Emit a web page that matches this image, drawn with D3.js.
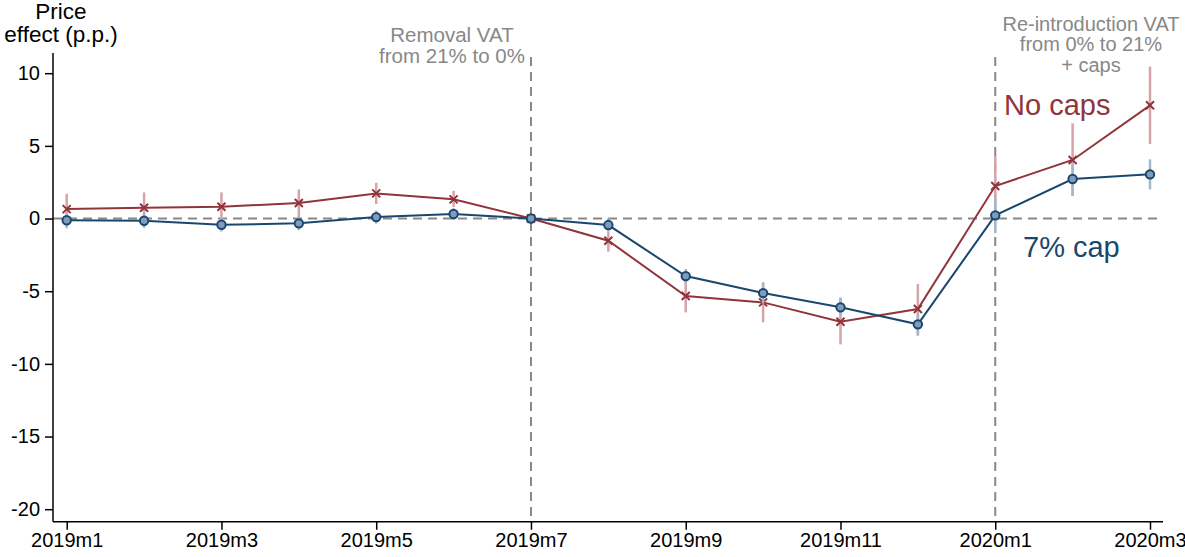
<!DOCTYPE html>
<html>
<head>
<meta charset="utf-8">
<script src="https://cdn.jsdelivr.net/npm/d3@7"></script>
<style>
  html, body { margin: 0; padding: 0; background: #fff; }
  svg { display: block; font-family: Arial, "Liberation Sans", sans-serif; }
</style>
</head>
<body>
<svg id="chart" width="1185" height="557"></svg>
<script>
// ---- data ----
const months = ["2019m1","2019m2","2019m3","2019m4","2019m5","2019m6","2019m7","2019m8","2019m9","2019m10","2019m11","2019m12","2020m1","2020m2","2020m3"];
const tickLabels = ["2019m1","2019m3","2019m5","2019m7","2019m9","2019m11","2020m1","2020m3"];
const yTicks = [10, 5, 0, -5, -10, -15, -20];

const noCaps      = [0.65, 0.74, 0.81, 1.07, 1.73, 1.32, 0, -1.53, -5.33, -5.77, -7.10, -6.23, 2.24, 4.03, 7.79];
const noCapsLow   = [-0.40, -0.30, -0.20, 0.10, 1.00, 0.80, 0, -2.28, -6.46, -7.14, -8.66, -8.00, 0.20, 1.55, 5.13];
const noCapsHigh  = [1.70, 1.80, 1.80, 2.00, 2.46, 1.90, 0, -0.91, -4.20, -4.40, -5.45, -4.50, 4.30, 6.55, 10.45];

const cap7        = [-0.12, -0.15, -0.43, -0.33, 0.10, 0.31, 0, -0.45, -3.96, -5.13, -6.11, -7.28, 0.22, 2.72, 3.04];
const cap7Low     = [-0.67, -0.65, -0.90, -0.80, -0.35, -0.10, 0, -0.90, -4.45, -5.85, -6.80, -8.07, -1.00, 1.55, 2.00];
const cap7High    = [0.38, 0.35, 0.05, 0.15, 0.55, 0.70, 0, 0.00, -3.47, -4.40, -5.45, -6.50, 1.40, 3.80, 4.07];

const eventMonths = ["2019m7", "2020m1"];

// ---- styles ----
const RED = "#90353b", RED_CI = "#d6a3a8";
const BLUE = "#1a476f", BLUE_CI = "#a5b8cb", BLUE_FILL = "#7f9dbb";
const GRAY = "#888888";

const svg = d3.select("#chart");

const x = d3.scalePoint().domain(months).range([66.7, 1150]);
const y = d3.scaleLinear().domain([-20.86, 11.39]).range([521.7, 53]);

// zero reference line
svg.append("line")
  .attr("x1", 53).attr("x2", 1163)
  .attr("y1", y(0)).attr("y2", y(0))
  .attr("stroke", GRAY).attr("stroke-width", 2).attr("stroke-dasharray", "9,6");

// vertical event lines
svg.selectAll("line.event").data(eventMonths).join("line")
  .attr("class", "event")
  .attr("x1", d => x(d)).attr("x2", d => x(d))
  .attr("y1", 57).attr("y2", 521.7)
  .attr("stroke", GRAY).attr("stroke-width", 2).attr("stroke-dasharray", "9,6");

// axes
const yAxis = d3.axisLeft(y).tickValues(yTicks).tickSize(8).tickPadding(5).tickFormat(d => String(d));
const gy = svg.append("g").attr("transform", "translate(53,0)").call(yAxis);
gy.select(".domain").attr("d", `M-0,${y.range()[1]}V${y.range()[0]}`).attr("stroke", "#000").attr("stroke-width", 1.5);
gy.selectAll(".tick line").attr("stroke", "#000").attr("stroke-width", 1.5);
gy.selectAll(".tick text").attr("font-size", 20).attr("fill", "#000").attr("font-family", "Arial, 'Liberation Sans', sans-serif");

const xAxis = d3.axisBottom(x).tickValues(tickLabels).tickSize(8).tickPadding(3);
const gx = svg.append("g").attr("transform", "translate(0,521.7)").call(xAxis);
gx.select(".domain").attr("d", "M53,0H1163").attr("stroke", "#000").attr("stroke-width", 1.5);
gx.selectAll(".tick line").attr("stroke", "#000").attr("stroke-width", 1.5);
gx.selectAll(".tick text").attr("font-size", 20).attr("fill", "#000").attr("font-family", "Arial, 'Liberation Sans', sans-serif");

// series
function drawSeries(vals, lo, hi, ciColor) {
  const data = months.map((m, i) => ({ m, v: vals[i], lo: lo[i], hi: hi[i] }));
  const g = svg.append("g");
  g.selectAll("line.ci").data(data.filter(d => d.hi !== d.lo)).join("line")
    .attr("class", "ci")
    .attr("x1", d => x(d.m)).attr("x2", d => x(d.m))
    .attr("y1", d => y(d.lo)).attr("y2", d => y(d.hi))
    .attr("stroke", ciColor).attr("stroke-width", 2.5);
  return { g, data };
}

const red = drawSeries(noCaps, noCapsLow, noCapsHigh, RED_CI);
const blue = drawSeries(cap7, cap7Low, cap7High, BLUE_CI);

const line = d3.line().x(d => x(d.m)).y(d => y(d.v));
red.g.append("path").datum(red.data).attr("d", line)
  .attr("fill", "none").attr("stroke", RED).attr("stroke-width", 2);
blue.g.append("path").datum(blue.data).attr("d", line)
  .attr("fill", "none").attr("stroke", BLUE).attr("stroke-width", 2);

// markers
const s = 4;
red.g.selectAll("path.mk").data(red.data).join("path")
  .attr("class", "mk")
  .attr("d", d => {
    const cx = x(d.m), cy = y(d.v);
    return `M${cx - s},${cy - s}L${cx + s},${cy + s}M${cx - s},${cy + s}L${cx + s},${cy - s}`;
  })
  .attr("stroke", RED).attr("stroke-width", 2).attr("fill", "none");

blue.g.selectAll("circle.mk").data(blue.data).join("circle")
  .attr("class", "mk")
  .attr("cx", d => x(d.m)).attr("cy", d => y(d.v)).attr("r", 4.2)
  .attr("fill", BLUE_FILL).attr("stroke", BLUE).attr("stroke-width", 2);

// y title
svg.append("text").attr("x", 61).attr("y", 19).attr("text-anchor", "middle")
  .attr("font-size", 22.5).attr("fill", "#000").text("Price");
svg.append("text").attr("x", 61).attr("y", 42).attr("text-anchor", "middle")
  .attr("font-size", 22.5).attr("fill", "#000").text("effect (p.p.)");

// annotations
const ann1 = ["Removal VAT", "from 21% to 0%"];
svg.append("g").selectAll("text").data(ann1).join("text")
  .attr("x", 452).attr("y", (d, i) => 41.7 + i * 21)
  .attr("text-anchor", "middle").attr("font-size", 20.5).attr("fill", GRAY)
  .text(d => d);

const ann2 = ["Re-introduction VAT", "from 0% to 21%", "+ caps"];
svg.append("g").selectAll("text").data(ann2).join("text")
  .attr("x", 1091).attr("y", (d, i) => 30.7 + i * 20.5)
  .attr("text-anchor", "middle").attr("font-size", 20).attr("fill", GRAY)
  .text(d => d);

// series labels
svg.append("text").attr("x", 1004).attr("y", 115).attr("font-size", 29)
  .attr("fill", RED).text("No caps");
svg.append("text").attr("x", 1023).attr("y", 256.7).attr("font-size", 29)
  .attr("fill", BLUE).text("7% cap");
</script>
</body>
</html>
